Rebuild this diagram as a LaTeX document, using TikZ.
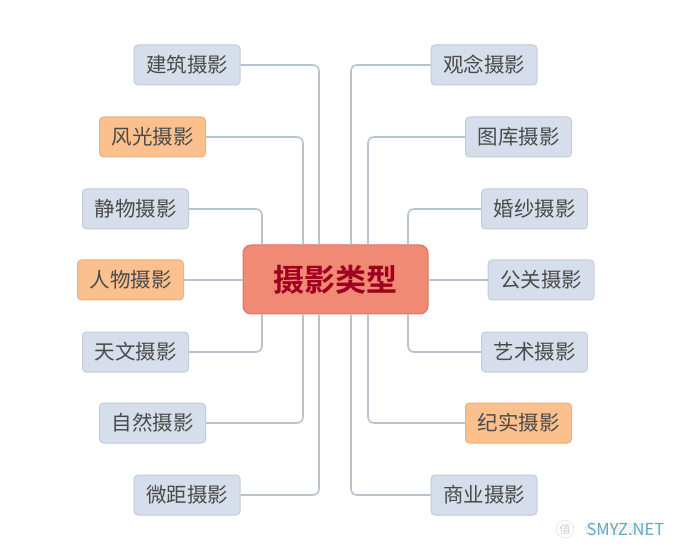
\documentclass[tikz,border=0pt]{standalone}
\usepackage{fontspec}
\setmainfont{Noto Sans CJK SC}
\newfontfamily\cjk{Noto Sans CJK SC}
\newfontfamily\cjkbold{Noto Sans CJK SC Bold}
\definecolor{boxfill}{HTML}{D6DEEB}
\definecolor{boxline}{HTML}{C3CCDA}
\definecolor{orfill}{HTML}{FBC08E}
\definecolor{orline}{HTML}{EDB07E}
\definecolor{cfill}{HTML}{F08A74}
\definecolor{cline}{HTML}{DE7462}
\definecolor{ctext}{HTML}{A00020}
\definecolor{txt}{HTML}{4A4A4A}
\definecolor{conncol}{HTML}{B9C2CF}
\definecolor{wm}{HTML}{5FAAC2}
\tikzset{
  leaf/.style={draw=boxline, fill=boxfill, rounded corners=4pt, line width=1pt,
    minimum width=106pt, minimum height=40pt, inner sep=0pt,
    font=\cjk\fontsize{20.5}{22}\selectfont, text=txt},
  leafor/.style={leaf, draw=orline, fill=orfill},
  hub/.style={draw=cline, fill=cfill, rounded corners=8pt, line width=1pt,
    minimum width=185pt, minimum height=69pt, inner sep=0pt,
    font=\cjkbold\fontsize{31}{34}\selectfont, text=ctext},
  conn/.style={draw=conncol, line width=1.6pt, rounded corners=6pt}
}
\begin{document}
\begin{tikzpicture}[x=1pt,y=-1pt]
\useasboundingbox[fill=white] (0,0) rectangle (680,553);
\node[hub] (c) at (335.5,279.5) {摄影类型};
% left
\node[leaf] (l1) at (187,65) {建筑摄影};
\node[leafor] (l2) at (152.5,137) {风光摄影};
\node[leaf] (l3) at (135.5,209) {静物摄影};
\node[leafor] (l4) at (130.5,280) {人物摄影};
\node[leaf] (l5) at (135.5,352) {天文摄影};
\node[leaf] (l6) at (152.5,423) {自然摄影};
\node[leaf] (l7) at (187,495) {微距摄影};
% right
\node[leaf] (r1) at (484,65) {观念摄影};
\node[leaf] (r2) at (518.5,137) {图库摄影};
\node[leaf] (r3) at (534.5,209) {婚纱摄影};
\node[leaf] (r4) at (541,280) {公关摄影};
\node[leaf] (r5) at (534.5,352) {艺术摄影};
\node[leafor] (r6) at (518.5,423) {纪实摄影};
\node[leaf] (r7) at (484,495) {商业摄影};
% connectors
\draw[conn] (l1.east) -| ([xshift=-16.5pt]c.north);
\draw[conn] (l2.east) -| ([xshift=-32.5pt]c.north);
\draw[conn] (l3.east) -| ([xshift=-73.5pt]c.north);
\draw[conn] (l4.east) -- (l4.east -| c.west);
\draw[conn] (l5.east) -| ([xshift=-73.5pt]c.south);
\draw[conn] (l6.east) -| ([xshift=-32.5pt]c.south);
\draw[conn] (l7.east) -| ([xshift=-16.5pt]c.south);
\draw[conn] (r1.west) -| ([xshift=15.5pt]c.north);
\draw[conn] (r2.west) -| ([xshift=32.5pt]c.north);
\draw[conn] (r3.west) -| ([xshift=72.5pt]c.north);
\draw[conn] (r4.west) -- (r4.west -| c.east);
\draw[conn] (r5.west) -| ([xshift=72.5pt]c.south);
\draw[conn] (r6.west) -| ([xshift=32.5pt]c.south);
\draw[conn] (r7.west) -| ([xshift=15.5pt]c.south);
% watermark
\node[draw=black!15, circle, inner sep=1pt, text=black!20, font=\cjk\fontsize{11}{12}\selectfont] (wz) at (565,529) {值};
\node[text=black!10, font=\cjk\fontsize{13}{14}\selectfont, anchor=west] (wt) at (580,530) {什么值得买};
\node[text=wm, font=\cjk\fontsize{16.5}{18}\selectfont, anchor=west] (wn) at (583,529) {SMYZ.NET};
\end{tikzpicture}
\end{document}
